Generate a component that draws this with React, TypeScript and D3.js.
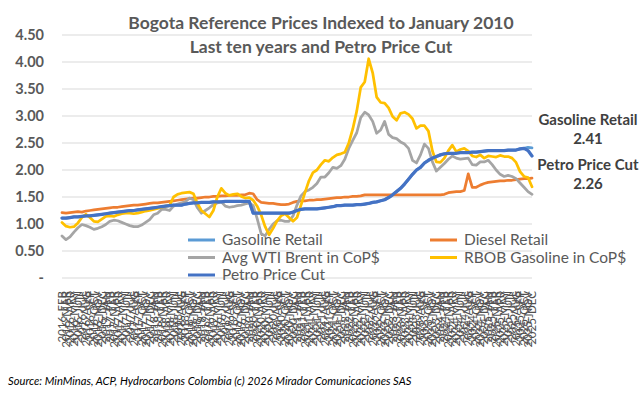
import React from "react";
import * as d3 from "d3";

const monthNames = ["JAN", "FEB", "MAR", "APR", "MAY", "JUN", "JUL", "AUG", "SEP", "OCT", "NOV", "DEC"];

// Feb 2016 .. Dec 2025, monthly
const months: string[] = [];
for (let y = 2016; y <= 2025; y++) {
  for (let m = 0; m < 12; m++) {
    if (y === 2016 && m === 0) continue;
    months.push(`${y}-${monthNames[m]}`);
  }
}

const gasolineRetail = [
  1.11, 1.11, 1.12, 1.13, 1.13, 1.14, 1.15, 1.15, 1.16, 1.17, 1.18, 1.19,
  1.20, 1.21, 1.22, 1.23, 1.24, 1.25, 1.25, 1.26, 1.27, 1.28, 1.29, 1.30,
  1.31, 1.32, 1.33, 1.34, 1.35, 1.35, 1.35, 1.37, 1.38, 1.39, 1.39, 1.40,
  1.40, 1.40, 1.41, 1.41, 1.41, 1.42, 1.42, 1.42, 1.42, 1.42, 1.42, 1.42,
  1.20, 1.20, 1.20, 1.20, 1.20, 1.20, 1.20, 1.20, 1.20, 1.20, 1.22, 1.25,
  1.27, 1.28, 1.28, 1.28, 1.28, 1.29, 1.30, 1.31, 1.32, 1.34, 1.34, 1.35,
  1.35, 1.35, 1.36, 1.36, 1.37, 1.38, 1.40, 1.41, 1.43, 1.45, 1.49, 1.54,
  1.60, 1.66, 1.74, 1.83, 1.92, 2.00, 2.05, 2.13, 2.18, 2.22, 2.25, 2.28,
  2.30, 2.31, 2.31, 2.31, 2.32, 2.32, 2.32, 2.33, 2.33, 2.34, 2.35, 2.36,
  2.36, 2.36, 2.36, 2.36, 2.37, 2.37, 2.37, 2.39, 2.40, 2.42, 2.41,
];

const dieselRetail = [
  1.21, 1.20, 1.21, 1.22, 1.23, 1.22, 1.24, 1.25, 1.26, 1.27, 1.28, 1.29,
  1.30, 1.31, 1.31, 1.32, 1.33, 1.34, 1.35, 1.35, 1.36, 1.37, 1.38, 1.39,
  1.39, 1.40, 1.41, 1.42, 1.43, 1.44, 1.45, 1.46, 1.47, 1.48, 1.48, 1.49,
  1.50, 1.50, 1.51, 1.51, 1.52, 1.52, 1.53, 1.53, 1.53, 1.54, 1.54, 1.57,
  1.56, 1.45, 1.40, 1.39, 1.38, 1.38, 1.37, 1.36, 1.36, 1.37, 1.40, 1.42,
  1.43, 1.43, 1.44, 1.44, 1.45, 1.45, 1.46, 1.47, 1.48, 1.49, 1.49, 1.50,
  1.50, 1.51, 1.51, 1.52, 1.54, 1.54, 1.54, 1.54, 1.54, 1.54, 1.54, 1.54,
  1.54, 1.54, 1.54, 1.54, 1.54, 1.54, 1.54, 1.54, 1.54, 1.54, 1.54, 1.54,
  1.55, 1.58, 1.59, 1.60, 1.60, 1.62, 1.93, 1.68, 1.68, 1.72, 1.75, 1.77,
  1.78, 1.79, 1.80, 1.80, 1.81, 1.81, 1.82, 1.83, 1.84, 1.84, 1.85,
];

const wtiBrent = [
  0.78, 0.71, 0.76, 0.85, 0.93, 0.99, 0.97, 0.94, 0.90, 0.92, 0.95, 0.99,
  1.05, 1.07, 1.06, 1.03, 1.00, 0.97, 0.95, 0.95, 0.98, 1.03, 1.08, 1.17,
  1.20, 1.27, 1.27, 1.25, 1.33, 1.37, 1.39, 1.41, 1.48, 1.45, 1.30, 1.20,
  1.25, 1.30, 1.36, 1.39, 1.41, 1.33, 1.31, 1.32, 1.34, 1.35, 1.37, 1.39,
  1.34, 1.10, 0.82, 0.78, 0.90, 1.00, 1.06, 1.07, 1.05, 1.05, 1.15, 1.35,
  1.52, 1.60, 1.63, 1.68, 1.75, 1.87, 1.87, 1.95, 2.05, 2.03, 2.08, 2.20,
  2.40, 2.55, 2.69, 2.97, 3.07, 3.02, 2.90, 2.68, 2.74, 2.90, 2.66, 2.60,
  2.58, 2.52, 2.48, 2.40, 2.18, 2.13, 2.28, 2.48, 2.40, 2.15, 1.98, 2.05,
  2.12, 2.20, 2.26, 2.22, 2.20, 2.21, 2.22, 2.10, 2.09, 2.15, 2.15, 2.18,
  2.10, 2.00, 1.92, 1.88, 1.90, 1.88, 1.84, 1.76, 1.68, 1.60, 1.55,
];

const rbobGasoline = [
  1.03, 0.96, 0.94, 0.95, 1.02, 1.12, 1.18, 1.12, 1.05, 1.04, 1.09, 1.14,
  1.15, 1.14, 1.17, 1.19, 1.20, 1.20, 1.19, 1.20, 1.22, 1.24, 1.25, 1.27,
  1.29, 1.31, 1.33, 1.34, 1.50, 1.55, 1.57, 1.58, 1.59, 1.56, 1.38, 1.25,
  1.19, 1.13, 1.25, 1.50, 1.66, 1.57, 1.53, 1.55, 1.56, 1.51, 1.48, 1.49,
  1.44, 1.33, 1.17, 0.95, 0.80, 0.92, 1.06, 1.15, 1.19, 1.12, 1.05, 1.12,
  1.35, 1.58, 1.80, 1.95, 2.00, 2.10, 2.18, 2.16, 2.23, 2.28, 2.30, 2.33,
  2.50, 2.76, 3.09, 3.53, 3.63, 4.06, 3.80, 3.35, 3.25, 3.24, 3.15, 2.99,
  2.92, 3.05, 3.07, 3.03, 2.95, 2.77, 2.82, 2.82, 2.72, 2.35, 2.15, 2.14,
  2.22, 2.36, 2.46, 2.34, 2.38, 2.40, 2.35, 2.26, 2.24, 2.28, 2.22, 2.26,
  2.25, 2.24, 2.27, 2.25, 2.25, 2.22, 2.14, 1.97, 1.88, 1.86, 1.69,
];

const petroPriceCut = [
  1.11, 1.11, 1.12, 1.13, 1.13, 1.14, 1.15, 1.15, 1.16, 1.17, 1.18, 1.19,
  1.20, 1.21, 1.22, 1.23, 1.24, 1.25, 1.25, 1.26, 1.27, 1.28, 1.29, 1.30,
  1.31, 1.32, 1.33, 1.34, 1.35, 1.35, 1.35, 1.37, 1.38, 1.39, 1.39, 1.40,
  1.40, 1.40, 1.41, 1.41, 1.41, 1.42, 1.42, 1.42, 1.42, 1.42, 1.42, 1.42,
  1.20, 1.20, 1.20, 1.20, 1.20, 1.20, 1.20, 1.20, 1.20, 1.20, 1.22, 1.25,
  1.27, 1.28, 1.28, 1.28, 1.28, 1.29, 1.30, 1.31, 1.32, 1.34, 1.34, 1.35,
  1.35, 1.35, 1.36, 1.36, 1.37, 1.38, 1.40, 1.41, 1.43, 1.45, 1.49, 1.54,
  1.60, 1.66, 1.74, 1.83, 1.92, 2.00, 2.05, 2.13, 2.18, 2.22, 2.25, 2.28,
  2.30, 2.31, 2.31, 2.31, 2.32, 2.32, 2.32, 2.33, 2.33, 2.34, 2.35, 2.36,
  2.36, 2.36, 2.36, 2.36, 2.37, 2.37, 2.37, 2.39, 2.40, 2.36, 2.26,
];

const yTicks = [0, 0.5, 1, 1.5, 2, 2.5, 3, 3.5, 4, 4.5];

const series = [
  { name: "Gasoline Retail", values: gasolineRetail, color: "#5B9BD5", width: 2.75 },
  { name: "Diesel Retail", values: dieselRetail, color: "#ED7D31", width: 2.75 },
  { name: "Avg WTI Brent in CoP$", values: wtiBrent, color: "#A5A5A5", width: 2.75 },
  { name: "RBOB Gasoline in CoP$", values: rbobGasoline, color: "#FFC000", width: 2.75 },
  { name: "Petro Price Cut", values: petroPriceCut, color: "#4472C4", width: 3.25 },
];

const width = 642;
const height = 394;
const font = "Lato, 'Open Sans', sans-serif";
const textColor = "#595959";

export default function App() {
  const x = d3.scalePoint<string>().domain(months).range([62, 532]);
  const y = d3.scaleLinear().domain([0, 4.5]).range([278, 35]);

  const line = d3
    .line<number>()
    .x((_, i) => x(months[i]) as number)
    .y((d) => y(d));

  // legend slots: two columns, three rows
  const legendPos = [
    { x: 188, y: 240 },
    { x: 430, y: 240 },
    { x: 188, y: 257.5 },
    { x: 430, y: 257.5 },
    { x: 188, y: 275 },
  ];

  return (
    <div style={{ position: "fixed", left: 0, top: 0 }}>
      <svg width={width} height={height} style={{ display: "block", background: "#fff" }}>
        {/* gridlines */}
        {yTicks.map((t) => (
          <line key={t} x1={62} x2={532} y1={y(t)} y2={y(t)} stroke="#D9D9D9" strokeWidth={1} />
        ))}

        {/* y tick labels */}
        {yTicks.map((t) => (
          <text
            key={t}
            x={44}
            y={y(t)}
            dy="0.35em"
            textAnchor="end"
            fontFamily={font}
            fontSize={14.5}
            fontWeight="bold"
            fill={textColor}
          >
            {t === 0 ? "-" : d3.format(".2f")(t)}
          </text>
        ))}

        {/* x tick labels */}
        {months.map((m) => (
          <text
            key={m}
            transform={`translate(${(x(m) as number) + 4},291) rotate(-90)`}
            textAnchor="end"
            fontFamily={font}
            fontSize={11.5}
            fill="#505050"
          >
            {m}
          </text>
        ))}

        {/* title */}
        <text x={321} y={29} textAnchor="middle" fontFamily={font} fontSize={17.5} fontWeight="bold" fill={textColor}>
          Bogota Reference Prices Indexed to January 2010
        </text>
        <text x={321} y={53} textAnchor="middle" fontFamily={font} fontSize={17.5} fontWeight="bold" fill={textColor}>
          Last ten years and Petro Price Cut
        </text>

        {/* legend */}
        {series.map((s, i) => (
          <g key={s.name} transform={`translate(${legendPos[i].x},${legendPos[i].y})`}>
            <line x1={0} x2={27} y1={0} y2={0} stroke={s.color} strokeWidth={3} />
            <text x={34} y={0} dy="0.35em" fontFamily={font} fontSize={15.5} fill={textColor}>
              {s.name}
            </text>
          </g>
        ))}

        {/* series lines */}
        {series.map((s) => (
          <path
            key={s.name}
            d={line(s.values) || ""}
            fill="none"
            stroke={s.color}
            strokeWidth={s.width}
            strokeLinejoin="round"
            strokeLinecap="round"
          />
        ))}

        {/* end annotations */}
        <g fontFamily={font} fontSize={15} fontWeight="bold" fill="#404040" textAnchor="middle">
          <text x={588} y={120} dy="0.35em">Gasoline Retail</text>
          <text x={588} y={139} dy="0.35em">{d3.format(".2f")(gasolineRetail[gasolineRetail.length - 1])}</text>
          <text x={588} y={165} dy="0.35em">Petro Price Cut</text>
          <text x={588} y={184} dy="0.35em">{d3.format(".2f")(petroPriceCut[petroPriceCut.length - 1])}</text>
        </g>

        {/* source */}
        <text x={8} y={385} fontFamily={font} fontSize={11.2} fontStyle="italic" fill="#000">
          Source: MinMinas, ACP, Hydrocarbons Colombia (c) 2026 Mirador Comunicaciones SAS
        </text>
      </svg>
    </div>
  );
}
